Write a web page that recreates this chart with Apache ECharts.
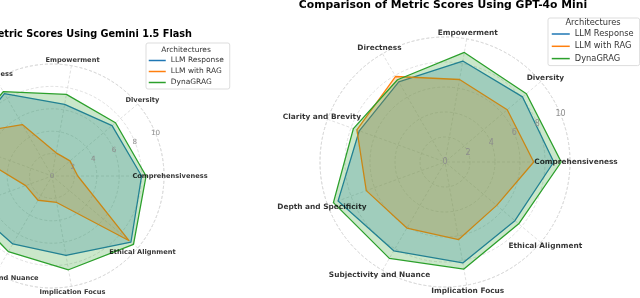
<!DOCTYPE html>
<html><head><meta charset="utf-8">
<script src="https://cdn.jsdelivr.net/npm/echarts@6/dist/echarts.min.js"></script>
<style>html,body{margin:0;padding:0;background:#fff;}#c{width:640px;height:298px;}</style>
</head><body><div id="c"></div>
<script>
const categories = ['Comprehensiveness','Diversity','Empowerment','Directness','Clarity and Brevity','Depth and Specificity','Subjectivity and Nuance','Implication Focus','Ethical Alignment'];
const seriesNames = ['LLM Response','LLM with RAG','DynaGRAG'];
const radialTicks = [0,2,4,6,8,10];
// Gemini 1.5 Flash (left)
const geminiLLM  = [8.0, 7.0, 6.5, 8.5, 8.3, 7.8, 7.0, 7.2, 9.2];
const geminiRAG  = [2.3, 2.1, 2.1, 5.3, 10.0, 2.5, 2.5, 2.4, 9.0];
const geminiDyna = [8.4, 7.4, 7.4, 8.7, 8.6, 8.2, 7.8, 8.5, 9.5];
// GPT-4o Mini (right)
const gptLLM  = [8.7, 8.1, 8.2, 7.4, 7.3, 9.1, 8.2, 8.2, 7.3];
const gptRAG  = [7.1, 6.5, 6.7, 7.9, 7.5, 6.7, 6.1, 6.3, 5.4];
const gptDyna = [9.3, 8.5, 8.9, 7.6, 7.8, 9.5, 8.9, 8.7, 7.7];

const colors = ['#1f77b4','#ff7f0e','#2ca02c'];
const FONT = 'DejaVu Sans';
const GRID = '#d8d8d8';
const STEP = 360 / categories.length;

const panels = [
  {title:'Comparison of Metric Scores Using Gemini 1.5 Flash', data:[geminiLLM, geminiRAG, geminiDyna],
   center:[52,176], R:112, labR:118, s:0.9, titleX:192, titleAlign:'right', titleTop:29,
   leg:{left:146, top:43, w:82, titleX:186, titleTop:47, padTop:13, lh:9, gap:2, padL:2, iw:17}},
  {title:'Comparison of Metric Scores Using GPT-4o Mini', data:[gptLLM, gptRAG, gptDyna],
   center:[445,162], R:125, labR:131, s:1.0, titleX:443, titleAlign:'center', titleTop:0,
   leg:{left:548, top:18, w:100, titleX:593, titleTop:18.5, padTop:11, lh:10, gap:2.3, padL:3, iw:18}}
];

function closed(vals){ const p = vals.map((v,i)=>[v, i*STEP]); p.push([vals[0], 360]); return p; }
const dash = {color:GRID, type:[3,2], width:0.8};

const option = {animation:false, backgroundColor:'#fff', textStyle:{fontFamily:FONT},
  polar:[], angleAxis:[], radiusAxis:[], series:[], title:[], legend:[]};

panels.forEach((P, k) => {
  const base = k*3;
  option.polar.push({center:P.center, radius:P.R});
  option.angleAxis.push({polarIndex:base, type:'value', min:0, max:360, interval:STEP, startAngle:0, clockwise:false,
    axisLine:{show:true, lineStyle:dash}, axisTick:{show:false}, axisLabel:{show:false},
    splitLine:{show:true, lineStyle:dash}});
  option.radiusAxis.push({polarIndex:base, type:'value', min:0, max:10, interval:2,
    axisLine:{show:false}, axisTick:{show:false}, axisLabel:{show:false}, splitLine:{show:true, lineStyle:dash}});
  option.polar.push({center:P.center, radius:P.R});
  option.angleAxis.push({polarIndex:base+1, type:'value', min:0, max:360, startAngle:22.5, clockwise:false,
    axisLine:{show:false}, axisTick:{show:false}, axisLabel:{show:false}, splitLine:{show:false}});
  option.radiusAxis.push({polarIndex:base+1, type:'value', min:0, max:10, interval:2, z:20,
    axisLine:{show:false}, axisTick:{show:false}, splitLine:{show:false},
    axisLabel:{show:true, margin:0, align:'center', verticalAlign:'middle', padding:[0,0,5,0], showMinLabel:true, showMaxLabel:true,
      color:'#8c8c8c', fontSize:8*P.s, fontFamily:FONT,
      formatter:v => radialTicks.includes(v) ? String(v) : ''}});
  option.polar.push({center:P.center, radius:P.labR});
  option.angleAxis.push({polarIndex:base+2, type:'value', min:0, max:360, startAngle:0, clockwise:false, show:false});
  option.radiusAxis.push({polarIndex:base+2, type:'value', min:0, max:1, show:false});

  P.data.forEach((vals, j) => {
    option.series.push({type:'line', name:seriesNames[j], coordinateSystem:'polar', polarIndex:base,
      data:closed(vals), symbol:'none', smooth:false, z:2+j,
      lineStyle:{color:colors[j], width:1.3}, itemStyle:{color:colors[j]},
      areaStyle:{color:colors[j], opacity:0.25}});
  });
  option.series.push({type:'scatter', coordinateSystem:'polar', polarIndex:base+2, z:30, symbolSize:0,
    itemStyle:{color:'transparent'},
    data:categories.map((c,i)=>({name:c, value:[1, i*STEP]})),
    label:{show:true, position:'inside', formatter:'{b}', color:'#000', fontWeight:'bold', fontSize:7.4*P.s, fontFamily:FONT}});

  option.title.push({text:P.title, left:P.titleX, top:P.titleTop, textAlign:P.titleAlign, padding:0,
    textStyle:{fontFamily:FONT, fontWeight:'bold', fontSize:10.8*P.s, color:'#000'}});
  const L = P.leg;
  option.title.push({text:'Architectures', left:L.titleX, top:L.titleTop, textAlign:'center', padding:0, z:20,
    textStyle:{fontFamily:FONT, fontWeight:'normal', fontSize:8.3*P.s, color:'#333'}});
  option.legend.push({data:seriesNames, orient:'vertical', left:L.left, top:L.top, width:L.w,
    padding:[L.padTop, 6, 2, L.padL], itemGap:L.gap, itemWidth:L.iw, itemHeight:L.lh,
    itemStyle:{opacity:0}, lineStyle:{width:1.5},
    backgroundColor:'rgba(255,255,255,0.8)', borderColor:'#dddddd', borderWidth:1, borderRadius:2, z:10,
    textStyle:{fontFamily:FONT, fontSize:8.3*P.s, color:'#333', lineHeight:L.lh}});
});

const chart = echarts.init(document.getElementById('c'), null, {renderer:'canvas'});
chart.setOption(option);
</script></body></html>
